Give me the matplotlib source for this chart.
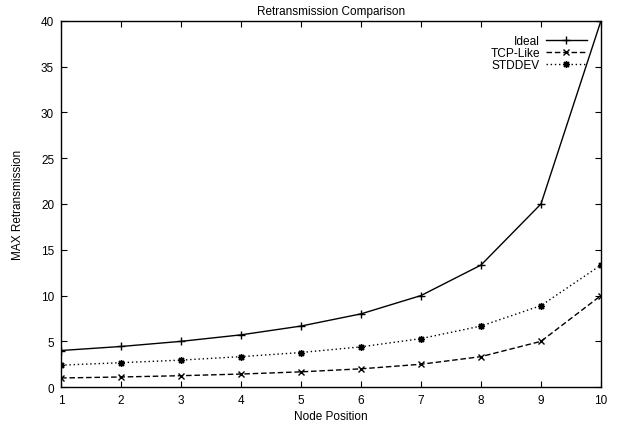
import matplotlib
matplotlib.use("Agg")
import matplotlib.pyplot as plt

plt.rcParams['font.family'] = ['Liberation Sans', 'DejaVu Sans']

nodes = [1, 2, 3, 4, 5, 6, 7, 8, 9, 10]
ideal = [4.0, 4.44, 5.0, 5.71, 6.67, 8.0, 10.0, 13.33, 20.0, 40.0]
tcp_like = [1.0, 1.11, 1.25, 1.43, 1.67, 2.0, 2.5, 3.33, 5.0, 10.0]
stddev = [2.4, 2.67, 2.95, 3.33, 3.78, 4.4, 5.3, 6.67, 8.9, 13.33]

fig = plt.figure(figsize=(6.17, 4.27), dpi=100)
ax = fig.add_axes([0.099, 0.091, 0.875, 0.858])

ax.plot(nodes, ideal, color='black', lw=1, marker='+', ms=6, mew=1, label='Ideal')
ax.plot(nodes, tcp_like, color='black', lw=1, ls=(0, (4, 2)), marker='x', ms=5, mew=1,
        label='TCP-Like')
ax.plot(nodes, stddev, color='black', lw=1, ls=(0, (1, 2)), marker=(8, 2, 0), ms=5, mew=1,
        label='STDDEV')

ax.set_xlim(1, 10)
ax.set_ylim(0, 40)
ax.set_xticks(nodes)
ax.set_yticks(range(0, 41, 5))
ax.tick_params(direction='in', top=True, right=True, labelsize=8.5, length=4, width=0.8,
               pad=5)
for s in ax.spines.values():
    s.set_linewidth(1)

ax.set_title('Retransmission Comparison', fontsize=8.5, pad=5)
ax.set_xlabel('Node Position', fontsize=8.5, labelpad=3)
ax.set_ylabel('MAX Retransmission', fontsize=8.5, labelpad=12)

ax.legend(loc='upper right', frameon=False, markerfirst=False, fontsize=8.6,
          handlelength=3.4, handletextpad=0.5, labelspacing=0.0,
          borderaxespad=0.8)

fig.savefig('out.png', dpi=100)
